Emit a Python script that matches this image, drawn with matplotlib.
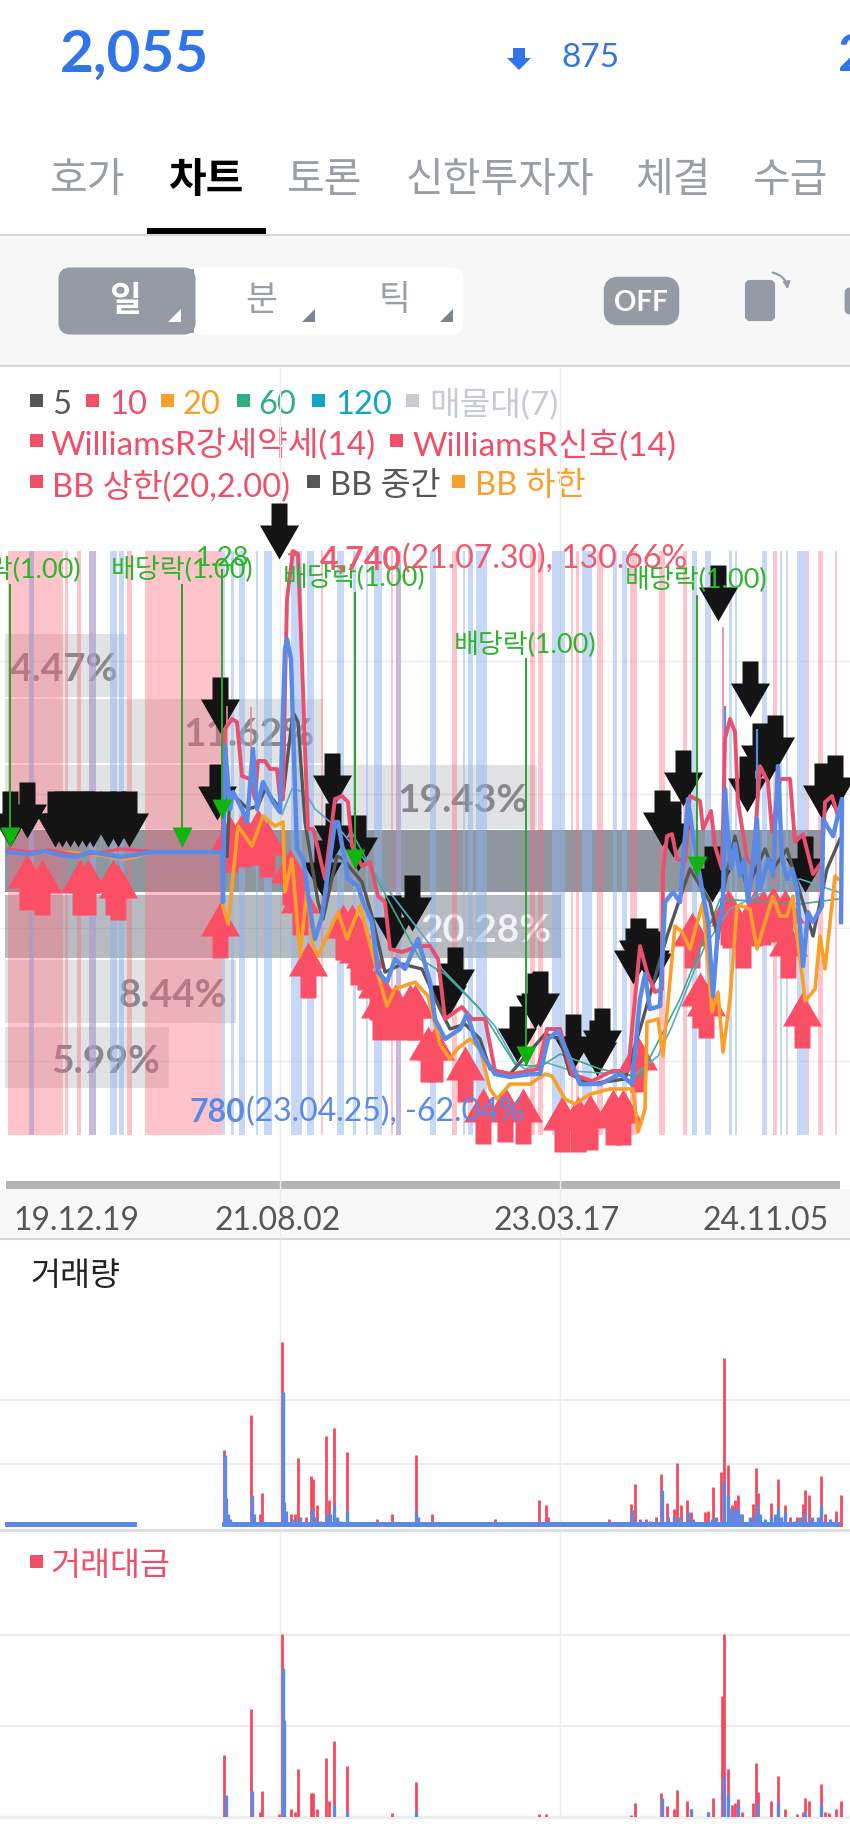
import matplotlib
matplotlib.use('Agg')
import matplotlib.pyplot as plt
from matplotlib.path import Path
from matplotlib.patches import FancyBboxPatch, Rectangle, Polygon

plt.rcParams['font.family'] = ['Lato', 'Noto Sans CJK KR', 'DejaVu Sans']

W, H = 850, 1831

# 가격 라인
price_x = [8, 30, 45, 60, 75, 90, 105, 120, 135, 150, 222, 223, 225, 230, 233, 242, 247, 253, 257, 263, 273, 280, 285,
           287, 291, 295, 297, 303, 312, 315, 322, 335, 338, 348, 358, 363, 372, 378, 387, 395, 405, 418, 430, 435, 445,
           460, 467, 475, 485, 495, 510, 530, 540, 548, 558, 570, 580, 600, 620, 632, 640, 645, 650, 660, 665, 673, 680,
           688, 693, 702, 708, 713, 718, 723, 725, 727, 731, 735, 740, 744, 748, 752, 757, 760, 763, 768, 773, 778, 782,
           787, 792, 797, 803, 808, 813, 822, 823, 833, 842, 841]
price_y = [2567, 2550, 2575, 2545, 2530, 2567, 2550, 2530, 2545, 2567, 2567, 2192, 3362, 2890, 3017, 2890, 2792, 3340,
           2890, 3092, 2942, 2867, 4090, 4165, 4015, 3040, 2590, 2515, 2042, 1915, 2087, 2792, 2792, 2365, 2312, 2192,
           2042, 1667, 1592, 1765, 1690, 1915, 1592, 1315, 1165, 1240, 1352, 1165, 1015, 902, 880, 902, 902, 1165, 1225,
           1015, 827, 827, 902, 827, 1465, 1652, 1390, 1412, 2192, 2267, 2192, 2965, 2687, 2290, 2042, 1487, 1990, 2192,
           3040, 2792, 2440, 2627, 2387, 2515, 2192, 2440, 2815, 2290, 2365, 2515, 2387, 3212, 2515, 2365, 2440, 2290,
           1712, 2117, 2042, 2162, 2815, 2687, 2965, 2042]

# BB 상한
upper_x = [8, 30, 50, 75, 100, 120, 147]
upper_y = [2590, 2567, 2582, 2545, 2560, 2590, 2575]
upper2_x = [222, 224, 225, 232, 237, 242, 250, 255, 258, 265, 270, 277, 280, 283, 285, 287, 293, 298, 303, 305, 308,
            313, 318, 325, 335, 342, 348, 352, 362, 370, 378, 385, 390, 402, 418, 430, 438, 445, 462, 472, 485, 495,
            512, 538, 547, 560, 572, 592, 612, 628, 635, 640, 647, 655, 662, 663, 667, 672, 677, 685, 690, 700, 703,
            711, 715, 722, 725, 730, 735, 738, 747, 753, 760, 768, 772, 780, 790, 795, 803, 813, 822, 825, 832, 838]
upper2_y = [2567, 3040, 3490, 3565, 3542, 3137, 3115, 2965, 3250, 3250, 3190, 3190, 2965, 2965, 3790, 4465, 4825, 4802,
            3790, 3340, 2740, 2740, 2590, 2365, 2965, 2987, 2942, 2612, 2462, 2492, 2237, 2192, 1840, 1817, 1862, 1862,
            1765, 1315, 1405, 1315, 1315, 925, 902, 940, 1240, 1240, 902, 850, 925, 925, 1465, 1862, 1667, 1517, 1540,
            2417, 2687, 2702, 2515, 2500, 2987, 2950, 2740, 2875, 2612, 2440, 3415, 3565, 3467, 2942, 2515, 2462, 3212,
            3092, 2717, 3115, 3115, 2642, 2702, 2402, 2492, 2942, 2987, 2837]

# BB 중간
mid_x = [227, 230, 248, 258, 265, 278, 283, 293, 298, 305, 318, 323, 337, 343, 362, 372, 385, 402, 422, 440, 450, 465,
         480, 490, 510, 545, 560, 570, 590, 625, 640, 667, 690, 710, 718, 723, 735, 747, 765, 773, 787, 807, 813, 827,
         840]
mid_y = [2537, 3017, 2890, 2912, 3040, 2912, 2987, 3617, 3542, 2792, 2192, 2065, 2537, 2515, 2342, 2087, 1667, 1727,
         1690, 1390, 1240, 1277, 1165, 940, 902, 1202, 1165, 902, 827, 865, 1240, 1937, 2440, 2192, 1915, 2267, 2687,
         2290, 2590, 2440, 2590, 2087, 1937, 2440, 2665]

# BB 하한
lower_x = [8, 60, 100, 125, 135, 150, 222, 223, 228, 235, 238, 252, 263, 275, 283, 285, 292, 300, 307, 313, 318, 338,
           347, 360, 372, 382, 387, 395, 415, 428, 440, 450, 457, 470, 480, 490, 497, 510, 530, 545, 552, 565, 575, 590,
           610, 633, 638, 645, 647, 658, 663, 675, 682, 690, 703, 712, 718, 723, 730, 737, 742, 750, 757, 765, 773, 780,
           787, 793, 795, 803, 805, 815, 820, 825, 835, 838]
lower_y = [2567, 2567, 2545, 2515, 2530, 2567, 2567, 2162, 2027, 2537, 2762, 2612, 2837, 2762, 2792, 2267, 2515, 1787,
           2290, 1862, 1787, 2117, 1915, 2162, 1817, 1540, 1412, 1540, 1592, 1487, 1127, 1015, 1090, 1165, 1090, 790,
           715, 827, 827, 902, 887, 715, 677, 752, 790, 790, 467, 640, 1292, 1315, 1037, 2012, 1967, 1840, 2192, 1367,
           1517, 1067, 1465, 2162, 2162, 2140, 1840, 2042, 2237, 2087, 2087, 2237, 2042, 1592, 1450, 1540, 1937, 1690,
           2387, 2365]

# 이평선
ma120_x = [282, 292, 305, 315, 342, 372, 418, 428, 442, 468, 495, 515, 525, 545, 572, 618, 633, 658, 672, 692, 705, 730,
           770, 800, 838]
ma120_y = [2850, 3040, 3017, 2890, 2717, 2440, 1990, 1892, 1690, 1487, 1262, 992, 940, 992, 925, 902, 887, 1037, 1262,
           1637, 1862, 2140, 2290, 2365, 2267]
ma60_x = [350, 420, 445, 480, 515, 540, 560, 600, 640, 680, 720, 800, 838]
ma60_y = [2740, 1765, 1652, 1390, 977, 955, 1052, 940, 880, 1465, 2215, 2177, 2215]

# 고가/저가 꼬리
wick_x = [227, 251, 723, 725, 757]
wick_high = [3662, 3655, 4255, 3660, 3490]
wick_low = [3040, 3265, 2590, 2790, 2215]

# 신호 구간
pink_start = [8, 29, 65, 77, 89, 127, 145, 321, 391, 396, 452, 530, 538, 571, 576, 597, 630, 659, 683, 773, 807, 818, 835]
pink_end = [63, 34, 68, 81, 96, 132, 222, 323, 393, 401, 457, 535, 543, 573, 579, 603, 637, 665, 687, 777, 809, 823, 837]
blue_start = [29, 89, 110, 119, 222, 231, 239, 256, 264, 291, 307, 337, 353, 366, 374, 396, 430, 463, 468, 476, 552,
              582, 613, 622, 692, 705, 729, 735, 762, 780, 786, 797]
blue_end = [34, 96, 117, 124, 225, 234, 245, 258, 272, 302, 314, 344, 356, 368, 382, 401, 436, 465, 473, 487, 565,
            592, 617, 627, 697, 711, 732, 737, 767, 782, 788, 807]
stripe_top = 4825
stripe_bottom = 445

# 매물대(7)
profile_low = [797, 1285, 1772, 2267, 2740, 3235, 3730]
profile_high = [1255, 1757, 2245, 2732, 3220, 3715, 4202]
profile_pct = [5.99, 8.44, 20.28, 29.77, 19.43, 11.62, 4.47]
profile_show = [True, True, True, False, True, True, True]
grid_prices = [1000, 2000, 3000, 4000]

# 매수/매도 신호
sell_x = [10, 27, 55, 62, 70, 78, 86, 93, 108, 118, 129, 220, 217, 279, 332, 322, 333, 358, 412, 393, 455, 447, 540,
          535, 517, 573, 602, 597, 638, 633, 652, 650, 673, 662, 683, 712, 718, 750, 775, 768, 747, 760, 822, 835, 805]
sell_y = [2605, 2672, 2605, 2605, 2605, 2605, 2605, 2605, 2605, 2605, 2605, 3460, 2807, 4765, 2890, 2237, 2515,
          2425, 1975, 1825, 1435, 1315, 1255, 1240, 992, 932, 977, 887, 1652, 1577, 1555, 1577, 2530, 2612, 2912, 2192,
          4300, 3580, 3175, 3092, 2867, 3115, 2815, 2875, 2267]
buy_x = [27, 42, 80, 88, 113, 118, 220, 230, 243, 258, 267, 290, 300, 308, 343, 352, 358, 365, 377, 380, 395, 410, 415,
         428, 435, 465, 483, 505, 523, 562, 578, 590, 613, 623, 638, 692, 700, 706, 728, 730, 743, 755, 763, 773, 785,
         788, 802]
buy_y = [2552, 2515, 2515, 2515, 2515, 2477, 2192, 2837, 2875, 2890, 2800, 2590, 2365, 1892, 2177, 2177, 1990, 1952,
         1727, 1577, 1577, 1577, 1577, 1262, 1262, 1112, 797, 812, 797, 737, 737, 752, 790, 790, 1187, 2117, 1667, 1592,
         2290, 2267, 2117, 2290, 2290, 2312, 2290, 2042, 1517]

# 배당락
div_x = [10, 182, 222, 355, 526, 697]
div_top = [4577, 4577, 4690, 4517, 4022, 4495]
div_tip = [2605, 2605, 2815, 2440, 962, 2387]
div_labels = ['배당락(1.00)', '배당락(1.00)', '1.28', '배당락(1.00)', '배당락(1.00)', '배당락(1.00)']

high_price, high_date, high_pct = 4740, '21.07.30', 130.66
low_price, low_date, low_pct = 780, '23.04.25', -62.04

date_pos = [0, 280, 560, 840]
date_labels = ['19.12.19', '21.08.02', '23.03.17', '24.11.05']

# 거래량
volume_base_start = [5, 222]
volume_base_end = [137, 840]
volume_base = 0.08
vol_x = [224, 251.5, 260, 262, 282.4, 291, 295, 298, 306, 311, 313, 317, 326, 329, 334, 347, 377, 392, 416, 432, 495,
         539, 546, 548.5, 609, 631, 635, 646, 656, 661, 667, 674, 677.5, 681, 687, 691, 705, 708, 713, 721, 723.6, 728,
         732, 735.5, 738, 742.5, 753, 756, 758, 771, 778, 785, 790, 797, 803, 805, 809, 820.6, 825, 836, 841]
vol_red = [1.22, 1.77, .21, .54, 2.91, .21, .21, 1.09, .16, .8, .76, .34, 1.43, .42, 1.56, 1.18, .13, .21, 1.14, .21,
           .13, .42, .34, .16, .13, .37, .67, .13, .16, .84, .38, .29, 1.01, .34, .42, .24, .24, .25, .63, .87, 2.66,
           .97, .34, .42, .5, .21, .37, .93, .54, .38, .76, .35, .16, .16, .37, .59, .51, .8, .21, .25, .5]
vol_blue_x = [225, 226.5, 228, 230, 252, 254, 283.5, 284.5, 286, 293, 300, 311.6, 315, 320, 327, 330, 334, 337, 340, 347,
              416, 418, 632.5, 640, 650, 662, 668, 674, 680, 688, 693, 712, 716, 723.6, 728, 731, 735.5, 738, 741, 750,
              755, 757, 760, 765, 771, 775, 778, 781, 785, 795, 800, 805, 812, 818, 820.6, 830]
vol_blue = [1.14, .45, .2, .12, .51, .2, 2.12, .39, .25, .12, .15, .29, .15, .1, .21, .2, .34, .15, .1, .25, .24, .15,
            .26, .12, .1, .58, .15, .18, .15, .24, .12, .12, .15, .73, .5, .3, .29, .28, .2, .15, .2, .34, .2, .12, .15,
            .2, .29, .15, .24, .1, .15, .24, .15, .15, .34, .12]

# 거래대금
amt_x = [224, 251.5, 260, 262, 279, 282.4, 291, 295, 298, 311, 313, 317, 326, 329, 334, 347, 392, 416, 539, 546, 631,
         635, 661, 667, 674, 677.5, 687, 691, 708, 713, 722, 723.6, 728, 732, 735.5, 738, 742.5, 753, 756, 758, 771,
         778, 785, 797, 803, 805, 809, 820.6, 825, 829, 836, 841]
amt_red = [.68, 1.18, .05, .29, .03, 2.01, .09, .05, .53, .26, .26, .09, .65, .18, .83, .56, .04, .38, .03, .03, .02,
           .15, .26, .12, .09, .30, .18, .09, .06, .21, 1.33, 2.01, .53, .13, .15, .2, .06, .15, .59, .27, .18, .45,
           .09, .03, .06, .21, .18, .36, .05, .04, .09, .18]
amt_blue_x = [226.5, 252, 283.5, 284.5, 334, 347, 416, 662, 691, 708, 723.6, 728, 738, 757, 778, 805, 820.6]
amt_blue = [.24, .29, 1.63, 1.06, .13, .05, .05, .21, .09, .06, .44, .24, .13, .15, .15, .06, .13]
panel_grid = [1, 2]

RED = '#f04f68'
BAR_RED = '#f5495f'
BLUE = '#5b8ae6'
ORANGE = '#f9a02b'
DARK = '#565656'
GREEN = '#2db52d'
GRAY = '#9a9fa5'
BTN = '#959ba5'
GRID = '#ececec'

DOWN_ARROW = Path([(0, 0), (19.5, 34), (8, 34), (8, 56), (-8, 56), (-8, 34), (-19.5, 34), (0, 0)], closed=True)
UP_ARROW = Path([(0, 0), (19.5, -34), (8, -34), (8, -56), (-8, -56), (-8, -34), (-19.5, -34), (0, 0)], closed=True)
DIV_HEAD = Path([(0, 0), (10, 20), (-10, 20), (0, 0)], closed=True)


def axes_rect(top, bottom):
    return [0, 1 - bottom / H, 1, (bottom - top) / H]


def label(x, y, s, color, size, **kw):
    # va center 가 위로 약간 뜨므로 3px 내림
    ui.text(x, y + 3, s, color=color, fontsize=size, va='center', **kw)


def legend_item(sq_x, txt_x, y, s, color, size=23.5):
    ui.add_patch(Rectangle((sq_x, y - 7), 13, 13, color=color, lw=0))
    label(txt_x, y, s, color, size)


fig = plt.figure(figsize=(W / 100, H / 100), dpi=100, facecolor='white')

# 화면 상단 UI
ui = fig.add_axes([0, 0, 1, 1], zorder=0)
ui.set_xlim(0, W)
ui.set_ylim(H, 0)
ui.axis('off')

label(60, 52, '2,055', '#2f74e8', 42, weight='bold')
ui.add_patch(Polygon([(513, 49), (525, 49), (525, 59), (531, 59), (519, 71), (507, 59), (513, 59)], color='#2f74e8', lw=0))
label(561, 55, '875', '#2f74e8', 24)
label(838, 53, '2', '#2f74e8', 37, weight='bold')

tabs = ['호가', '차트', '토론', '신한투자자', '체결', '수급']
tab_x = [50, 168, 287, 406, 635, 753]
for t, x in zip(tabs, tab_x):
    if t == '차트':
        label(x, 177, t, 'black', 29.5, weight='bold')
    else:
        label(x, 177, t, GRAY, 29.5)
ui.add_patch(Rectangle((147, 229), 119, 6, color='black', lw=0))
ui.add_patch(Rectangle((0, 237), W, 130, color='#f7f7f8', lw=0))
ui.plot([0, W], [236, 236], color='#d8d8d8', lw=1.5)
ui.plot([0, W], [367, 367], color='#d8d8d8', lw=1.5)

ui.add_patch(FancyBboxPatch((64, 274), 394, 56, boxstyle='round,pad=0,rounding_size=6', fc='white', ec='white', lw=8))
ui.add_patch(FancyBboxPatch((64, 274), 126, 56, boxstyle='round,pad=0,rounding_size=6', fc=BTN, ec=BTN, lw=8))
ui.add_patch(Rectangle((180, 270), 14, 64, color=BTN, lw=0))
label(125, 298, '일', 'white', 25, weight='bold', ha='center')
label(261, 297, '분', GRAY, 25, ha='center')
label(395, 297, '틱', GRAY, 25, ha='center')
for x0, c in zip([168, 302, 440], ['white', '#7d8491', '#7d8491']):
    ui.add_patch(Polygon([(x0, 323), (x0 + 13, 323), (x0 + 13, 310)], color=c, lw=0))
ui.add_patch(FancyBboxPatch((610, 284), 63, 36, boxstyle='round,pad=0,rounding_size=8', fc=BTN, ec=BTN, lw=9))
label(641, 300, 'OFF', 'white', 20, weight='bold', ha='center')
ui.add_patch(FancyBboxPatch((747, 283), 26, 37, boxstyle='round,pad=0,rounding_size=3', fc=BTN, ec=BTN, lw=3))
ui.annotate('', xy=(788, 293), xytext=(770, 273),
            arrowprops=dict(arrowstyle='-|>', color=BTN, lw=1.5, connectionstyle='arc3,rad=-0.4'))
ui.add_patch(FancyBboxPatch((846, 290), 10, 24, boxstyle='round,pad=0,rounding_size=4', fc=BTN, ec=BTN, lw=2))

legend_item(30, 52, 402, '5', DARK)
legend_item(86, 109, 402, '10', RED)
legend_item(161, 183, 402, '20', ORANGE)
legend_item(237, 258, 402, '60', '#2fae7e')
legend_item(312, 335, 402, '120', '#12a5c6')
legend_item(406, 429, 402, '매물대(7)', '#c8ccd2', 24)
legend_item(30, 50, 442, 'WilliamsR강세약세(14)', RED, 24)
legend_item(390, 412, 442, 'WilliamsR신호(14)', RED, 24)
legend_item(30, 52, 483, 'BB 상한(20,2.00)', RED)
legend_item(307, 330, 483, 'BB 중간', DARK)
legend_item(452, 475, 483, 'BB 하한', ORANGE)

# 스크롤바, 날짜 영역
ui.add_patch(Rectangle((0, 1190), W, 50, color='#f8f8f8', lw=0))
ui.add_patch(Rectangle((6, 1182), 834, 8, color='#b5b5b5', lw=0))
ui.plot([0, W], [1240, 1240], color='#d8d8d8', lw=1.5)

# 가격 차트
ax = fig.add_axes(axes_rect(367, 1240), zorder=1)
ax.set_xlim(0, W)
ax.set_ylim(-335, 6212.5)
ax.axis('off')

ax.vlines(date_pos[1:3], -335, 6212, color=GRID, lw=1, zorder=0)
ax.hlines(grid_prices, 0, W, color=GRID, lw=1, zorder=0.5)

PX_PER_PCT = 27.4
for lo, hi, pct, show in zip(profile_low, profile_high, profile_pct, profile_show):
    alpha = 0.55 if pct == max(profile_pct) else 0.35 if pct > 20 else 0.15
    ax.bar(5, hi - lo, width=pct * PX_PER_PCT, bottom=lo, align='edge', color='#324150', alpha=alpha, lw=0, zorder=1)
    if show:
        c = '#f0f2f5' if 20 < pct < 21 else '#8a878f'
        ax.text(5 + pct * PX_PER_PCT - 9, (lo + hi) / 2 - 22, '%.2f%%' % pct, color=c, fontsize=28, weight='bold',
                ha='right', va='center', zorder=1.5)

# 밴드 위에 반투명으로 겹침
ax.bar(pink_start, stripe_top - stripe_bottom, width=[b - a for a, b in zip(pink_start, pink_end)], bottom=stripe_bottom,
       align='edge', color='#ff6478', alpha=0.38, lw=0, zorder=2)
ax.bar(blue_start, stripe_top - stripe_bottom, width=[b - a for a, b in zip(blue_start, blue_end)], bottom=stripe_bottom,
       align='edge', color='#8fb3ee', alpha=0.5, lw=0, zorder=2.1)

ax.scatter(sell_x, sell_y, marker=DOWN_ARROW, s=6503, color='#141414', lw=0, zorder=4)
ax.scatter(buy_x, buy_y, marker=UP_ARROW, s=6503, color='#fb4f66', lw=0, zorder=4.2)

ax.vlines(wick_x[:3], wick_low[:3], wick_high[:3], color='#e88aa0', lw=1.2, zorder=4.5)
ax.vlines(wick_x[3:], wick_low[3:], wick_high[3:], color=BLUE, lw=1.6, zorder=4.5)

ax.plot(ma120_x, ma120_y, color='#5aa9c9', lw=1.2, zorder=5)
ax.plot(ma60_x, ma60_y, color='#3fa98a', lw=1.2, zorder=5)
ax.plot(mid_x, mid_y, color=DARK, lw=2.4, zorder=5.1)
ax.plot(lower_x, lower_y, color=ORANGE, lw=2.6, zorder=5.2)
ax.plot(upper_x, upper_y, color='#e8506e', lw=2.4, zorder=5.3)
ax.plot(upper2_x, upper2_y, color='#e8506e', lw=2.8, zorder=5.3)
ax.plot(price_x, price_y, color=BLUE, lw=3.2, zorder=5.4)

ax.vlines(div_x, div_tip, div_top, color='#2aa52a', lw=1.4, zorder=6)
ax.scatter(div_x, div_tip, marker=DIV_HEAD, s=829, color='#0fb40f', lw=0, zorder=6)
label_offset = [(0, 113), (0, 113), (1, 83), (-1, 113), (-1, 106), (-1, 120)]
for x, top, s, (dx, dy) in zip(div_x, div_top, div_labels, label_offset):
    ax.text(x + dx, top + dy, s, color=GREEN, fontsize=19.5, ha='center', va='center', zorder=7)

ax.text(320, high_price + 30, format(high_price, ','), color='#ee5a6f', fontsize=23, weight='bold', va='center', zorder=7)
ax.text(402, high_price + 30, '(%s), %.2f%%' % (high_date, high_pct), color='#ee5a6f', fontsize=23, va='center', zorder=7)
ax.annotate('', xy=(302, high_price + 60), xytext=(286, high_price + 60),
            arrowprops=dict(arrowstyle='-|>', color='#ee5a6f', lw=1.5), zorder=7)
ax.text(190, low_price - 155, str(low_price), color=BLUE, fontsize=23, weight='bold', va='center', zorder=7)
ax.text(246, low_price - 155, '(%s), %.2f%%' % (low_date, low_pct), color=BLUE, fontsize=23, va='center', zorder=7)

date_y = -192
ax.text(date_pos[0] + 13, date_y, date_labels[0], color=DARK, fontsize=23, va='center', zorder=7)
ax.text(date_pos[1] - 2, date_y, date_labels[1], color=DARK, fontsize=23, va='center', ha='center', zorder=7)
ax.text(date_pos[2] - 3, date_y, date_labels[2], color=DARK, fontsize=23, va='center', ha='center', zorder=7)
ax.text(date_pos[3] - 11, date_y, date_labels[3], color=DARK, fontsize=23, va='center', ha='right', zorder=7)

# 거래량
vol_ax = fig.add_axes(axes_rect(1241, 1528), zorder=1)
vol_ax.set_xlim(0, W)
vol_ax.set_ylim(0, 4.52)
vol_ax.axis('off')
vol_ax.vlines(date_pos[1:3], 0, 4.52, color=GRID, lw=1, zorder=0)
vol_ax.hlines(panel_grid, 0, W, color=GRID, lw=1.5, zorder=0)
vol_ax.vlines(vol_x, 0, vol_red, color=BAR_RED, lw=2)
vol_ax.vlines(vol_blue_x, 0, vol_blue, color=BLUE, lw=2.4)
for a, b in zip(volume_base_start, volume_base_end):
    vol_ax.fill_between([a, b], 0, volume_base, color=BLUE, lw=0, zorder=3)
label(30, 1273, '거래량', '#222222', 23.5)
ui.plot([0, W], [1531, 1531], color='#dddddd', lw=2)

# 거래대금
amt_ax = fig.add_axes(axes_rect(1531, 1818), zorder=1)
amt_ax.set_xlim(0, W)
amt_ax.set_ylim(0, 3.15)
amt_ax.axis('off')
amt_ax.vlines(date_pos[1:3], 0, 3.15, color=GRID, lw=1, zorder=0)
amt_ax.hlines(panel_grid, 0, W, color=GRID, lw=1.5, zorder=0)
amt_ax.vlines(amt_x, 0, amt_red, color=BAR_RED, lw=2)
amt_ax.vlines(amt_blue_x, 0, amt_blue, color=BLUE, lw=2.4)
legend_item(30, 50, 1563, '거래대금', RED)
ui.plot([0, W], [1818, 1818], color='#eeeeee', lw=2.5)

fig.savefig('out.png', dpi=100)
